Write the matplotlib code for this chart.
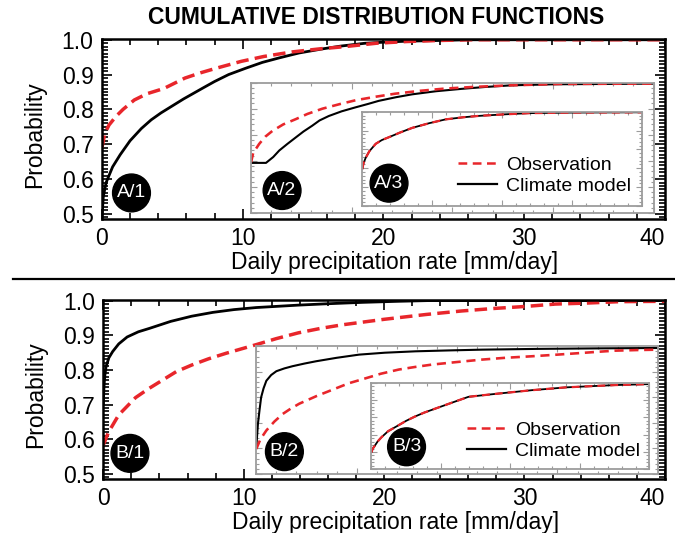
import matplotlib.pyplot as plt
from matplotlib.lines import Line2D
from matplotlib.ticker import MultipleLocator

plt.rcParams['font.family'] = ['Liberation Sans', 'DejaVu Sans']

# ---- panel A, main axes (mm/day, probability)
rate_a1_obs = [0, 0.2, 0.5, 1.0, 1.5, 2.3, 3.2, 4.4, 5.0, 5.9, 7.0, 8.1, 9.9, 11.5,
               13.5, 15.5, 17.2, 19.5, 21.7, 24, 26.3, 40]
prob_a1_obs = [0.69, 0.73, 0.755, 0.78, 0.80, 0.827, 0.845, 0.86, 0.872, 0.89, 0.905,
               0.918, 0.938, 0.952, 0.965, 0.974, 0.98, 0.99, 0.995, 0.998, 1.0, 1.0]
rate_a1_mod = [0, 0.1, 0.3, 0.76, 1.3, 2.0, 2.8, 3.5, 4.2, 5, 5.8, 6.5, 7.2, 8, 9, 10.2,
               11.4, 12.6, 14, 15.7, 17, 18.7, 20, 21.7, 24, 26, 40]
prob_a1_mod = [0.49, 0.55, 0.59, 0.635, 0.67, 0.71, 0.745, 0.77, 0.79, 0.81, 0.83, 0.846,
               0.862, 0.88, 0.9, 0.918, 0.935, 0.948, 0.962, 0.974, 0.982, 0.99, 0.993,
               0.996, 0.998, 1.0, 1.0]

# inset A/2
rate_a2_obs = [0, 0.2, 0.8, 1.4, 2.12, 3.2, 4.44, 5.6, 7.08, 8.8, 10.4, 12.4, 14.32,
               16.8, 19.24, 22.4, 25.84, 30.8, 40]
prob_a2_obs = [0.695, 0.73, 0.765, 0.7925, 0.815, 0.84, 0.86, 0.88, 0.90, 0.9175, 0.9325,
               0.946, 0.9575, 0.9685, 0.977, 0.984, 0.9895, 0.995, 0.996]
rate_a2_mod = [0, 1.48, 2.2, 2.8, 3.6, 4.44, 5.2, 6.08, 6.8, 7.72, 9.0, 10.36, 11.6,
               12.68, 14.4, 16, 18.4, 20.92, 23.2, 25.84, 30, 40]
prob_a2_mod = [0.6925, 0.6925, 0.715, 0.74, 0.765, 0.79, 0.8125, 0.835, 0.855, 0.872,
               0.89, 0.905, 0.918, 0.93, 0.944, 0.955, 0.967, 0.976, 0.983, 0.9895,
               0.9935, 0.996]

# inset A/3 (observation and model lie on top of each other)
rate_a3 = [0, 0.16, 0.48, 1.0, 1.92, 2.8, 3.8, 5.4, 7.16, 9.6, 11.92, 14.4, 16.68, 20,
           23.8, 30, 40]
prob_a3_obs = [0.695, 0.725, 0.755, 0.79, 0.83, 0.85, 0.865, 0.89, 0.915, 0.94, 0.96,
               0.971, 0.9785, 0.986, 0.993, 0.996, 0.9975]
prob_a3_mod = list(prob_a3_obs)

# ---- panel B, main axes
rate_b1_obs = [0, 0.37, 1.1, 2.3, 3.2, 4.2, 5.2, 6.3, 7.5, 8.75, 10.9, 12.3, 13.9, 15.5,
               17, 20, 23, 25.5, 27.7, 30, 32.2, 34.5, 36.8, 40]
prob_b1_obs = [0.583, 0.62, 0.67, 0.72, 0.745, 0.77, 0.795, 0.814, 0.832, 0.848, 0.873,
               0.89, 0.907, 0.92, 0.93, 0.946, 0.96, 0.97, 0.977, 0.983, 0.99, 0.993,
               0.997, 0.998]
rate_b1_mod = [0, 0.05, 0.1, 0.2, 0.4, 0.67, 1.1, 1.7, 2.5, 3.3, 4.8, 6.3, 7.8, 9.3,
               10.9, 13.9, 16, 18.5, 21, 23.1, 40]
prob_b1_mod = [0.70, 0.75, 0.78, 0.81, 0.835, 0.853, 0.875, 0.895, 0.91, 0.92, 0.94,
               0.955, 0.966, 0.974, 0.98, 0.987, 0.991, 0.995, 0.998, 1.0, 1.0]

# inset B/2
rate_b2_obs = [0, 0.4, 1.0, 1.8, 2.64, 3.4, 4.28, 6.0, 7.6, 9.2, 10.92, 12.4, 14.2, 15.8,
               17.52, 20, 22.48, 24.8, 27.44, 30, 32.4, 34, 35.72, 38, 40]
prob_b2_obs = [0.5975, 0.635, 0.67, 0.705, 0.735, 0.755, 0.775, 0.805, 0.83, 0.855, 0.875,
               0.8925, 0.909, 0.919, 0.9285, 0.9385, 0.948, 0.955, 0.961, 0.9675, 0.974,
               0.9785, 0.983, 0.9855, 0.987]
rate_b2_mod = [0, 0.08, 0.16, 0.32, 0.48, 0.72, 1.0, 1.48, 2.0, 2.8, 3.6, 4.8, 5.96, 8,
               10.24, 12.8, 15.88, 19.2, 22.48, 28, 34, 40]
prob_b2_mod = [0.605, 0.65, 0.695, 0.75, 0.80, 0.835, 0.865, 0.8875, 0.9025, 0.9135,
               0.922, 0.9325, 0.9415, 0.955, 0.9675, 0.975, 0.9805, 0.984, 0.987, 0.99,
               0.992, 0.9935]

# inset B/3
rate_b3 = [0, 0.16, 0.48, 0.88, 1.44, 2.4, 3.84, 5.0, 6.28, 7.6, 9.16, 11.6, 13.96, 16,
           18.32, 20.8, 23.12, 25.6, 27.96, 31.6, 35.2, 40]
prob_b3_obs = [0.5975, 0.6175, 0.636, 0.66, 0.685, 0.72, 0.753, 0.78, 0.805, 0.8275, 0.85,
               0.885, 0.9185, 0.9275, 0.9375, 0.9475, 0.957, 0.965, 0.973, 0.98, 0.9865,
               0.992]
prob_b3_mod = list(prob_b3_obs)

x_ticks = [0, 10, 20, 30, 40]
y_ticks = [0.5, 0.6, 0.7, 0.8, 0.9, 1.0]

RED = '#e8262b'
GRAY = '#9c9c9c'


def style_main(ax):
    ax.set_xlim(0, 40)
    ax.set_ylim(0.485, 1.002)
    ax.set_xticks(x_ticks, [str(t) for t in x_ticks])
    ax.xaxis.set_minor_locator(MultipleLocator(2))
    ax.set_yticks(y_ticks, [f'{t:.1f}' for t in y_ticks])
    ax.yaxis.set_minor_locator(MultipleLocator(0.01))
    ax.tick_params(which='both', direction='in', top=True, right=True, width=1.2)
    ax.tick_params(which='major', length=7, labelsize=16.5, pad=6)
    ax.tick_params(which='minor', length=4)
    for s in ax.spines.values():
        s.set_linewidth(1.8)
    ax.set_ylabel('Probability', fontsize=16.5)
    ax.yaxis.set_label_coords(-0.1, 0.47)
    ax.set_xlabel('Daily precipitation rate [mm/day]', fontsize=16.5)
    ax.xaxis.set_label_coords(0.52, -0.18)
    # the last label sits inside the right edge, as in the original
    ax.get_xticklabels()[-1].set_horizontalalignment('right')


def style_inset(ax):
    ax.set_xlim(0, 40)
    ax.set_ylim(0.5, 1.0)
    ax.xaxis.set_major_locator(MultipleLocator(10))
    ax.xaxis.set_minor_locator(MultipleLocator(2))
    ax.yaxis.set_major_locator(MultipleLocator(0.1))
    ax.yaxis.set_minor_locator(MultipleLocator(0.02))
    ax.tick_params(which='both', direction='in', top=True, right=True, color=GRAY,
                   labelbottom=False, labelleft=False, width=0.8)
    ax.tick_params(which='major', length=4)
    ax.tick_params(which='minor', length=2)
    for s in ax.spines.values():
        s.set_color(GRAY)
        s.set_linewidth(1.3)
    ax.set_facecolor('white')


def draw_pair(ax, xo, yo, xm, ym, lw, dash):
    ax.plot(xm, ym, color='black', lw=lw, solid_capstyle='butt')
    ax.plot(xo, yo, color=RED, lw=lw * 1.25, dashes=dash)


def badge(ax, x, y, txt):
    ax.text(x, y, txt, color='white', fontsize=14, ha='center', va='center', zorder=10,
            bbox=dict(boxstyle='circle,pad=0.22', fc='black', ec='black'))


fig = plt.figure(figsize=(6.75, 5.33), dpi=100)
ax_a = fig.add_axes([0.151, 0.589, 0.834, 0.3377])
ax_b = fig.add_axes([0.153, 0.1013, 0.832, 0.336])

for ax in (ax_a, ax_b):
    style_main(ax)

draw_pair(ax_a, rate_a1_obs, prob_a1_obs, rate_a1_mod, prob_a1_mod, 2.0, (3.6, 1.8))
draw_pair(ax_b, rate_b1_obs, prob_b1_obs, rate_b1_mod, prob_b1_mod, 2.0, (3.6, 1.8))

in_a2 = ax_a.inset_axes([10.6, 0.502, 28.6, 0.375], transform=ax_a.transData)
in_a3 = ax_a.inset_axes([18.5, 0.523, 19.9, 0.27], transform=ax_a.transData)
in_b2 = ax_b.inset_axes([10.9, 0.5, 28.6, 0.368], transform=ax_b.transData)
in_b3 = ax_b.inset_axes([19.1, 0.513, 19.8, 0.25], transform=ax_b.transData)
for ax in (in_a2, in_a3, in_b2, in_b3):
    style_inset(ax)

draw_pair(in_a2, rate_a2_obs, prob_a2_obs, rate_a2_mod, prob_a2_mod, 1.5, (3.5, 2.2))
draw_pair(in_a3, rate_a3, prob_a3_obs, rate_a3, prob_a3_mod, 1.3, (3.5, 2.2))
draw_pair(in_b2, rate_b2_obs, prob_b2_obs, rate_b2_mod, prob_b2_mod, 1.5, (3.5, 2.2))
draw_pair(in_b3, rate_b3, prob_b3_obs, rate_b3, prob_b3_mod, 1.3, (3.5, 2.2))

badge(ax_a, 2.1, 0.56, 'A/1')
badge(ax_a, 12.8, 0.567, 'A/2')
badge(ax_a, 20.4, 0.588, 'A/3')
badge(ax_b, 1.9, 0.559, 'B/1')
badge(ax_b, 12.9, 0.564, 'B/2')
badge(ax_b, 21.6, 0.578, 'B/3')

handles = [Line2D([], [], color=RED, lw=1.8, dashes=(3.5, 2.2)),
           Line2D([], [], color='black', lw=1.6)]
labels = ['Observation', 'Climate model']
for bx, by in ((458 / 675, 1 - 156 / 533), (467 / 675, 1 - 421 / 533)):
    fig.legend(handles, labels, loc='upper left', bbox_to_anchor=(bx, by),
               frameon=False, fontsize=14, handlelength=2.0, handletextpad=0.45,
               borderpad=0, borderaxespad=0, labelspacing=0.2)

fig.text(376 / 675, 1 - 18 / 533, 'CUMULATIVE DISTRIBUTION FUNCTIONS',
         fontsize=16.5, fontweight='bold', ha='center', va='center')
fig.add_artist(Line2D([13 / 675, 1], [1 - 279 / 533] * 2, color='black', lw=1.6))

fig.savefig('out.png', dpi=100)
